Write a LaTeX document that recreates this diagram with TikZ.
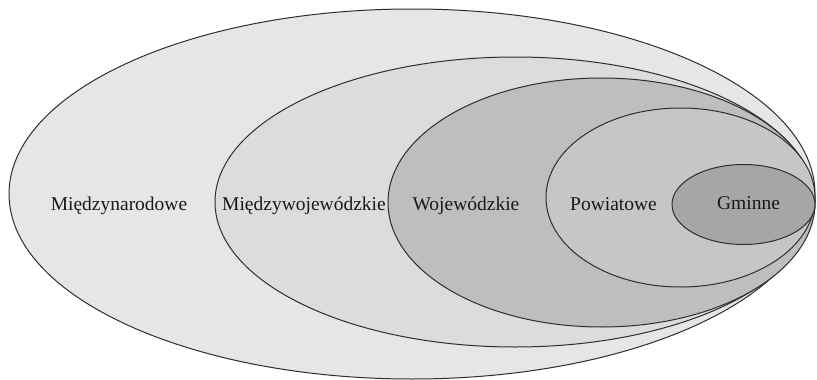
\documentclass[tikz,border=0pt]{standalone}
\usepackage{fontspec}
\setmainfont{Liberation Serif}
\definecolor{fillA}{HTML}{E6E6E6}
\definecolor{fillB}{HTML}{DCDCDC}
\definecolor{fillC}{HTML}{BEBEBE}
\definecolor{fillD}{HTML}{C6C6C6}
\definecolor{fillE}{HTML}{A6A6A6}
\definecolor{rim}{HTML}{2E2E2E}
\begin{document}
\begin{tikzpicture}[x=1pt,y=-1pt,
  ring/.style={draw=rim,line width=1pt},
  lbl/.style={anchor=base,inner sep=0pt,font=\fontsize{19.5}{23}\selectfont,text=black!90}]
\useasboundingbox (0,0) rectangle (817,380);
\fill[white] (0,0) rectangle (817,380);
% nested levels, all touching on the right
\draw[ring,fill=fillA] (412,194) ellipse [x radius=403,y radius=185];
\draw[ring,fill=fillB] (515,202) ellipse [x radius=300,y radius=145];
\draw[ring,fill=fillC] (601.5,202.5) ellipse [x radius=213.5,y radius=124.5];
\draw[ring,fill=fillD] (680.5,197.5) ellipse [x radius=134.5,y radius=89.5];
\draw[ring,fill=fillE] (743.5,204.5) ellipse [x radius=71.5,y radius=40];
% level names
\node[lbl] (mn) at (119,210) {Międzynarodowe};
\node[lbl] (mw) at (304,210) {Międzywojewódzkie};
\node[lbl] (wo) at (466,210) {Wojewódzkie};
\node[lbl] (po) at (613.5,210) {Powiatowe};
\node[lbl] (gm) at (748.5,209.5) {Gminne};
\end{tikzpicture}
\end{document}
